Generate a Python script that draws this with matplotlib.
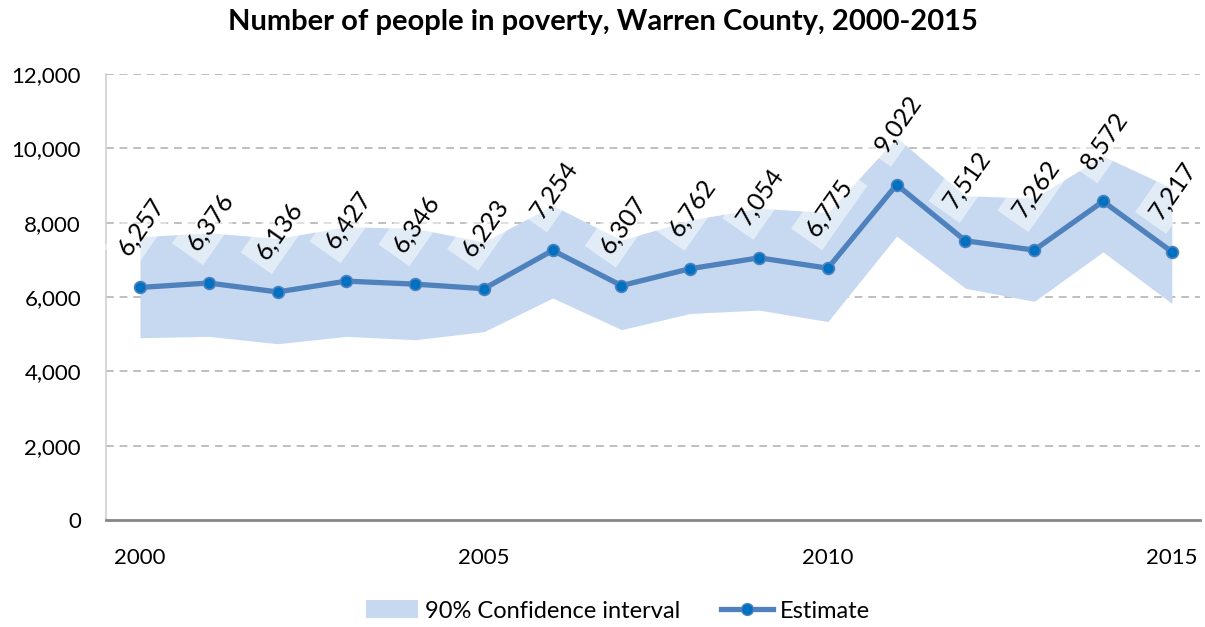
import matplotlib
matplotlib.use("Agg")
import matplotlib.pyplot as plt
from matplotlib.patches import Patch
from matplotlib.lines import Line2D
import numpy as np

plt.rcParams['font.family'] = ['Lato', 'DejaVu Sans']

years = list(range(2000, 2016))
estimate = [6257, 6376, 6136, 6427, 6346, 6223, 7254, 6307, 6762, 7054, 6775, 9022, 7512, 7262, 8572, 7217]
ci_lower = [4905, 4941, 4742, 4941, 4851, 5068, 5973, 5122, 5557, 5647, 5339, 7638, 6235, 5882, 7213, 5828]
ci_upper = [7620, 7729, 7575, 7891, 7846, 7484, 8462, 7530, 8072, 8389, 8271, 10290, 8724, 8660, 9792, 8932]
tick_years = [2000, 2005, 2010, 2015]
title = "Number of people in poverty, Warren County, 2000-2015"

band_color = '#C6D9F0'
line_color = '#4F81BD'
marker_color = '#0070C0'

fig = plt.figure(figsize=(12.05, 6.27), dpi=100)
W, H = 1205, 627
ax = fig.add_axes([106 / W, 1 - 520 / H, (1200 - 106) / W, (520 - 74) / H])

ax.fill_between(years, ci_lower, ci_upper, color=band_color, linewidth=0, zorder=1)
ax.plot(years, estimate, color=line_color, linewidth=3.8, zorder=3,
        marker='o', markersize=8.5, markerfacecolor=marker_color,
        markeredgecolor=line_color, markeredgewidth=1.2)

for x, v in zip(years, estimate):
    ax.annotate(f"{v:,}", xy=(x, v), xytext=(1, 44), textcoords='offset points',
                ha='center', va='center', rotation=55, fontsize=18, color='black',
                zorder=4,
                bbox=dict(boxstyle='square,pad=0.3', facecolor='white', edgecolor='none', alpha=0.5))

ax.set_xlim(1999.506, 2015.41)
ax.set_ylim(0, 12000)
ax.set_yticks(np.arange(0, 12001, 2000))
ax.set_yticklabels([f"{int(t):,}" for t in np.arange(0, 12001, 2000)], fontsize=16)
ax.tick_params(axis='y', length=0, pad=18)
ax.set_xticks(tick_years)
ax.set_xticklabels([str(t) for t in tick_years], fontsize=16)
ax.tick_params(axis='x', length=0, pad=20)

for yv in np.arange(2000, 12001, 2000):
    ax.axhline(yv, color='#BFBFBF', linewidth=1.4, linestyle=(0, (4, 3)), zorder=0.5)

for s in ['top', 'right']:
    ax.spines[s].set_visible(False)
ax.spines['left'].set_color('#D0D0D0')
ax.spines['left'].set_linewidth(1.2)
ax.spines['bottom'].set_color('#868686')
ax.spines['bottom'].set_linewidth(2.0)

fig.text(0.5, 1 - 22 / H, title, ha='center', va='center', fontsize=21, fontweight='bold')

handles = [Patch(facecolor=band_color, edgecolor='none', label='90% Confidence interval'),
           Line2D([0], [0], color=line_color, linewidth=3.8, marker='o', markersize=8.5,
                  markerfacecolor=marker_color, markeredgecolor=line_color, label='Estimate')]
fig.legend(handles=handles, loc='center', bbox_to_anchor=(618 / W, 1 - 611 / H), ncol=2,
           frameon=False, fontsize=17, handlelength=2.2, handleheight=0.8,
           columnspacing=1.7, handletextpad=0.3)

fig.savefig('out.png', dpi=100)
